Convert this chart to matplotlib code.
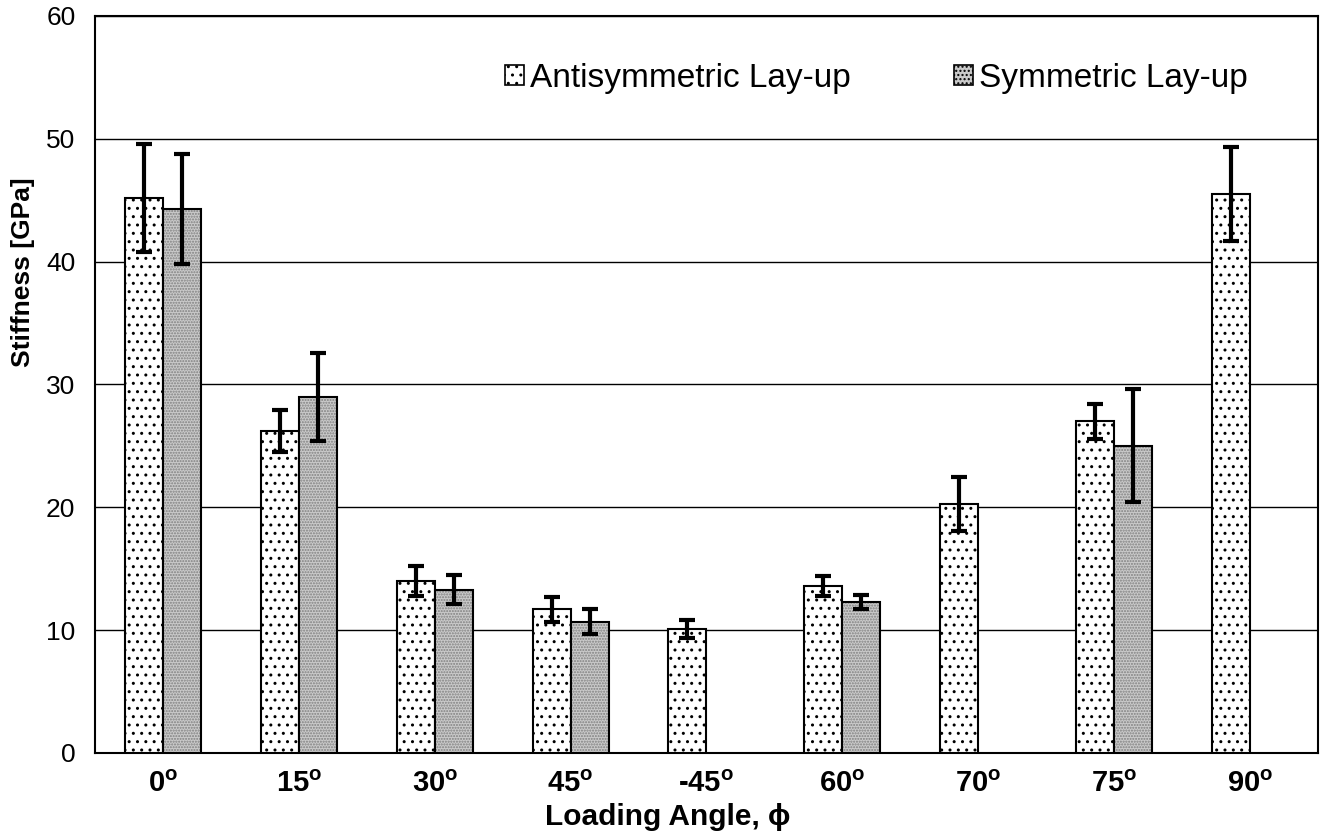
import numpy as np
import matplotlib.pyplot as plt
import matplotlib.patches as mpatches

plt.rcParams['font.family'] = ['Liberation Sans', 'DejaVu Sans']
plt.rcParams['mathtext.fontset'] = 'custom'
plt.rcParams['mathtext.rm'] = 'Liberation Sans'
plt.rcParams['mathtext.bf'] = 'Liberation Sans:bold'
plt.rcParams['hatch.linewidth'] = 1.0

# loading angles and measured stiffness (GPa), mean and error
angles = ['0', '15', '30', '45', '-45', '60', '70', '75', '90']
anti_mean = [45.2, 26.2, 14.0, 11.7, 10.1, 13.6, 20.3, 27.0, 45.5]
anti_err = [4.4, 1.7, 1.2, 1.0, 0.7, 0.8, 2.2, 1.4, 3.8]
sym_mean = [44.3, 29.0, 13.3, 10.7, np.nan, 12.3, np.nan, 25.0, np.nan]
sym_err = [4.5, 3.6, 1.2, 1.0, np.nan, 0.6, np.nan, 4.6, np.nan]

x = np.arange(len(angles)) + 0.5
w = 0.28
anti_mean = np.array(anti_mean)
sym_mean = np.array(sym_mean)
has_sym = ~np.isnan(sym_mean)

fig = plt.figure(figsize=(13.26, 8.4), dpi=100)
ax = fig.add_axes([0.0716, 0.1036, 0.9224, 0.8774])

# antisymmetric: white with sparse dots
ax.bar(x - w/2, anti_mean, w, color='white', edgecolor='black', lw=1.5,
       hatch='..', zorder=3)
# symmetric: grey stipple, hatch drawn first then black outline
ax.bar(x[has_sym] + w/2, sym_mean[has_sym], w, color='#cacaca',
       edgecolor='#808080', lw=0, hatch='......', zorder=3)
ax.bar(x[has_sym] + w/2, sym_mean[has_sym], w, fill=False,
       edgecolor='black', lw=1.5, zorder=4)

eb = dict(fmt='none', ecolor='black', elinewidth=3, capsize=5.5,
          capthick=3, zorder=5)
ax.errorbar(x - w/2, anti_mean, yerr=anti_err, **eb)
ax.errorbar(x[has_sym] + w/2, sym_mean[has_sym],
            yerr=np.array(sym_err)[has_sym], **eb)

ax.set_xlim(0, len(angles))
ax.set_ylim(0, 60)
ax.set_yticks(np.arange(0, 61, 10))
ax.yaxis.grid(True, color='black', lw=1)
ax.set_axisbelow(True)
for s in ax.spines.values():
    s.set_linewidth(1.5)

ax.set_xticks(x)
ax.set_xticklabels([a + r'$^{\mathbf{o}}$' for a in angles],
                   fontsize=21, fontweight='bold')
ax.tick_params(axis='x', length=0, pad=12)
ax.tick_params(axis='y', length=0, pad=14, labelsize=19)

ax.set_ylabel('Stiffness [GPa]', fontsize=19, fontweight='bold')
ax.yaxis.set_label_coords(-0.049, 0.653)
ax.set_xlabel('Loading Angle, ϕ', fontsize=21.5, fontweight='bold')
ax.xaxis.set_label_coords(0.468, -0.068)

handles = [
    mpatches.Patch(facecolor='white', edgecolor='black', hatch='..', lw=1.2,
                   label='Antisymmetric Lay-up'),
    mpatches.Patch(facecolor='#cacaca', edgecolor='black', hatch='....',
                   lw=1.2, label='Symmetric Lay-up'),
]
fig.legend(handles=handles, loc='upper left', bbox_to_anchor=(0.381, 0.925),
           ncol=2, frameon=False, fontsize=24, handlelength=0.55,
           handleheight=0.55, handletextpad=0.2, columnspacing=3.1,
           borderpad=0, borderaxespad=0)

fig.savefig('out.png', dpi=100)
